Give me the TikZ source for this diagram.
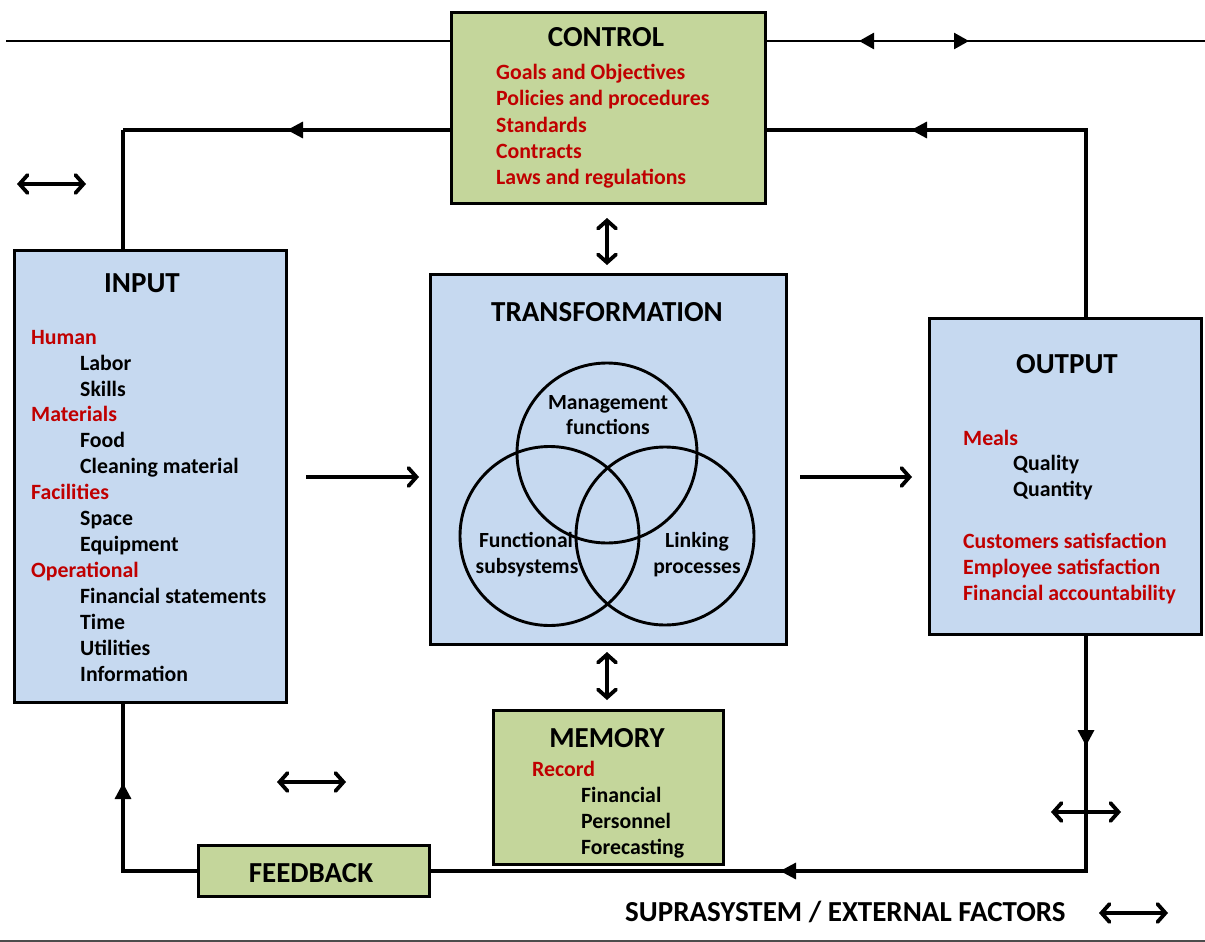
\documentclass[tikz,border=0pt]{standalone}
\usepackage{fontspec}
\setmainfont{Carlito}
\usetikzlibrary{arrows.meta}
\definecolor{boxgreen}{RGB}{196,214,155}
\definecolor{boxblue}{RGB}{198,217,240}
\definecolor{itemred}{RGB}{192,0,0}
\tikzset{
  box/.style={draw=black, line width=3.4pt, rectangle, inner sep=0pt, anchor=north west},
  gbox/.style={box, fill=boxgreen},
  bbox/.style={box, fill=boxblue},
  ttl/.style={font=\fontsize{29}{31}\selectfont\bfseries, anchor=base, inner sep=0pt},
  itm/.style={font=\fontsize{21.8}{24}\selectfont\bfseries, anchor=base west, inner sep=0pt},
  reditm/.style={itm, text=itemred},
  ctr/.style={font=\fontsize{21.6}{24}\selectfont\bfseries, anchor=base, inner sep=0pt},
  conn/.style={line width=3.3pt},
  midtip/.style={conn, -{Triangle[length=16pt,width=16pt]}},
  dbl/.style={line width=3.8pt, {Straight Barb[length=8pt,width=18pt,line cap=round]}-{Straight Barb[length=8pt,width=18pt,line cap=round]}},
  single/.style={line width=3.8pt, -{Straight Barb[length=8pt,width=18pt,line cap=round]}},
  venn/.style={draw=black, line width=2.9pt, circle, inner sep=0pt}
}
\begin{document}
\begin{tikzpicture}[x=1pt,y=-1pt]
\useasboundingbox (0,0) rectangle (1205,942);
% boxes
\node[gbox, minimum width=314pt, minimum height=191pt] (ctl) at (450,11) {};
\node[bbox, minimum width=272pt, minimum height=452pt] (inp) at (13,249) {};
\node[bbox, minimum width=356pt, minimum height=370pt] (trf) at (429,273) {};
\node[bbox, minimum width=272pt, minimum height=316pt] (out) at (928,317) {};
\node[gbox, minimum width=230pt, minimum height=154pt] (mem) at (492,709) {};
\node[gbox, minimum width=231pt, minimum height=51pt] (fb) at (197,844) {};

% top line
\coordinate (tl) at (6,41);
\coordinate (tr) at (1205,41);
\coordinate (tla) at (859,41);
\coordinate (tm) at (912,41);
\coordinate (tra) at (969,41);
\draw[conn, line width=2.6pt] (tl) -- (ctl.west |- tl);
\draw[conn, line width=2.6pt] (ctl.east |- tr) -- (tr);
\draw[conn, line width=2.6pt, -{Triangle[length=15pt,width=16pt]}] (tm) -- (tla);
\draw[conn, line width=2.6pt, -{Triangle[length=15pt,width=16pt]}] (tm) -- (tra);

% control -> input loop
\coordinate (ctlL) at (450,130);
\coordinate (ctlR) at (764,130);
\coordinate (inTop) at (123,130);
\coordinate (arrL) at (287,130);
\coordinate (outTop) at (1086,130);
\coordinate (arrR) at (911,130);
\draw[conn] (inTop) -- (ctlL);
\draw[midtip] (ctlL) -- (arrL);
\draw[conn] (inp.north -| inTop) -- (inTop);
\draw[conn] (ctlR) -- (outTop) -- (out.north -| outTop);
\draw[midtip] (outTop) -- (arrR);

% output -> feedback -> input loop
\coordinate (botR) at (1086,871);
\coordinate (arrD) at (1086,746);
\coordinate (arrB) at (780,871);
\coordinate (inBot) at (123,871);
\coordinate (arrU) at (123,783);
\draw[conn] (out.south -| botR) -- (botR) -- (fb.east |- botR);
\draw[midtip] (out.south -| botR) -- (arrD);
\draw[midtip] (botR) -- (arrB);
\draw[conn] (fb.west |- inBot) -- (inBot) -- (inp.south -| inBot);
\draw[midtip] (inBot) -- (arrU);

% process arrows
\coordinate (a1s) at (306,477);
\coordinate (a1e) at (419,477);
\coordinate (a2s) at (800,477);
\coordinate (a2e) at (912,477);
\draw[single] (a1s) -- (a1e);
\draw[single] (a2s) -- (a2e);
\coordinate (c1) at (607,218);
\coordinate (c2) at (607,265);
\draw[dbl] (c1) -- (c2);
\coordinate (m1) at (607,652);
\coordinate (m2) at (607,700);
\draw[dbl] (m1) -- (m2);

% free double arrows (suprasystem)
\coordinate (d1a) at (17,184); \coordinate (d1b) at (86,184);
\draw[dbl] (d1a) -- (d1b);
\coordinate (d2a) at (277,782); \coordinate (d2b) at (346,782);
\draw[dbl] (d2a) -- (d2b);
\coordinate (d3a) at (1051,812); \coordinate (d3b) at (1121,812);
\draw[dbl] (d3a) -- (d3b);
\coordinate (d4a) at (1099,913); \coordinate (d4b) at (1168,913);
\draw[dbl] (d4a) -- (d4b);

% bottom gray line
\coordinate (bl) at (0,941); \coordinate (br) at (1205,941);
\draw[line width=2pt, black!70] (bl) -- (br);

% titles
\node[ttl] (ctlT) at (606,47) {CONTROL};
\node[ttl] (inpT) at (142,292) {INPUT};
\node[ttl] (trfT) at (607,321) {TRANSFORMATION};
\node[ttl] (outT) at (1067,373) {OUTPUT};
\node[ttl] (memT) at (607,747) {MEMORY};
\node[ttl] (fbT) at (311,882) {FEEDBACK};
\node[ttl, anchor=base west] (supT) at (625,921) {SUPRASYSTEM / EXTERNAL FACTORS};

% control items
\foreach \t [count=\i from 0] in {Goals and Objectives,Policies and procedures,Standards,Contracts,Laws and regulations}
  \node[reditm] (ci\i) at (496,80+26*\i) {\t};

% input items
\node[reditm] (i0) at (31,344) {Human};
\node[itm] (i1) at (80,370) {Labor};
\node[itm] (i2) at (80,396) {Skills};
\node[reditm] (i3) at (31,421.5) {Materials};
\node[itm] (i4) at (80,447.5) {Food};
\node[itm] (i5) at (80,473.5) {Cleaning material};
\node[reditm] (i6) at (31,499.5) {Facilities};
\node[itm] (i7) at (80,525.5) {Space};
\node[itm] (i8) at (80,551.5) {Equipment};
\node[reditm] (i9) at (31,577) {Operational};
\node[itm] (i10) at (80,603) {Financial statements};
\node[itm] (i11) at (80,629) {Time};
\node[itm] (i12) at (80,655) {Utilities};
\node[itm] (i13) at (80,681) {Information};

% venn
\node[venn, minimum size=180pt] (vt) at (607,453) {};
\node[venn, minimum size=179pt] (vl) at (549.5,536) {};
\node[venn, minimum size=178pt] (vr) at (665,536) {};
\node[ctr] (vt1) at (608,409) {Management};
\node[ctr] (vt2) at (608,434) {functions};
\node[ctr] (vl1) at (526,547) {Functional};
\node[ctr] (vl2) at (527,573) {subsystems};
\node[ctr] (vr1) at (697,547) {Linking};
\node[ctr] (vr2) at (697,573) {processes};

% output items
\node[reditm] (o0) at (963,445) {Meals};
\node[itm] (o1) at (1013,470) {Quality};
\node[itm] (o2) at (1013,496) {Quantity};
\node[reditm] (o3) at (963,548) {Customers satisfaction};
\node[reditm] (o4) at (963,574) {Employee satisfaction};
\node[reditm] (o5) at (963,600) {Financial accountability};

% memory items
\node[reditm] (me0) at (532,776) {Record};
\node[itm] (me1) at (581,802) {Financial};
\node[itm] (me2) at (581,828) {Personnel};
\node[itm] (me3) at (581,854) {Forecasting};
\end{tikzpicture}
\end{document}
